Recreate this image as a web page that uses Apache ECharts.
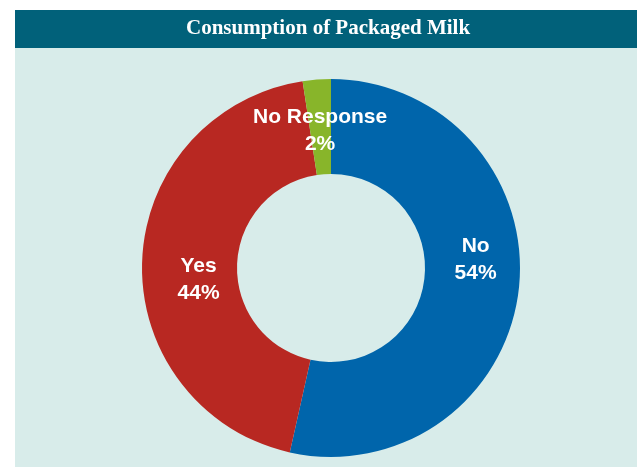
<!DOCTYPE html>
<html>
<head>
<meta charset="utf-8">
<script src="https://cdn.jsdelivr.net/npm/echarts@6/dist/echarts.min.js"></script>
<style>
  html, body { margin: 0; padding: 0; background: #ffffff; }
  #main { width: 637px; height: 467px; }
</style>
</head>
<body>
<div id="main"></div>
<script>
// slices, clockwise from 12 o'clock
var names = ["No", "Yes", "No Response"];
var values = [53.5, 44.1, 2.4];
var colors = ["#0065ab", "#b82822", "#88b52a"];

var chart = echarts.init(document.getElementById("main"));
window.addEventListener("resize", chart.resize);

// small label nudges so the text sits where the original has it
var nudge = [[1, -24], [12, 17], [0, 7]];

var option = {
  backgroundColor: "#ffffff",
  animation: false,
  graphic: [
    { type: "rect", z: -10, shape: { x: 15, y: 48, width: 622, height: 419 }, style: { fill: "#d8ecea" } },
    { type: "rect", z: -10, shape: { x: 15, y: 10, width: 622, height: 38 }, style: { fill: "#01617a" } }
  ],
  title: {
    text: "Consumption of Packaged Milk",
    left: 186,
    top: 18,
    padding: 0,
    textStyle: {
      color: "#ffffff",
      fontFamily: "Liberation Serif, Times New Roman, serif",
      fontWeight: "bold",
      fontSize: 21
    }
  },
  series: [
    {
      type: "pie",
      center: [331, 268],
      radius: [94, 189],
      startAngle: 90,
      clockwise: true,
      percentPrecision: 0,
      emphasis: { disabled: true },
      label: {
        show: true,
        position: "inside",
        formatter: "{b}\n{d}%",
        color: "#ffffff",
        fontFamily: "Liberation Sans, Arial, sans-serif",
        fontWeight: "bold",
        fontSize: 21,
        lineHeight: 27
      },
      labelLine: { show: false },
      labelLayout: function (p) {
        return { dx: nudge[p.dataIndex][0], dy: nudge[p.dataIndex][1] };
      },
      data: names.map(function (n, i) {
        return { name: n, value: values[i], itemStyle: { color: colors[i] } };
      })
    }
  ]
};

chart.setOption(option);
</script>
</body>
</html>
